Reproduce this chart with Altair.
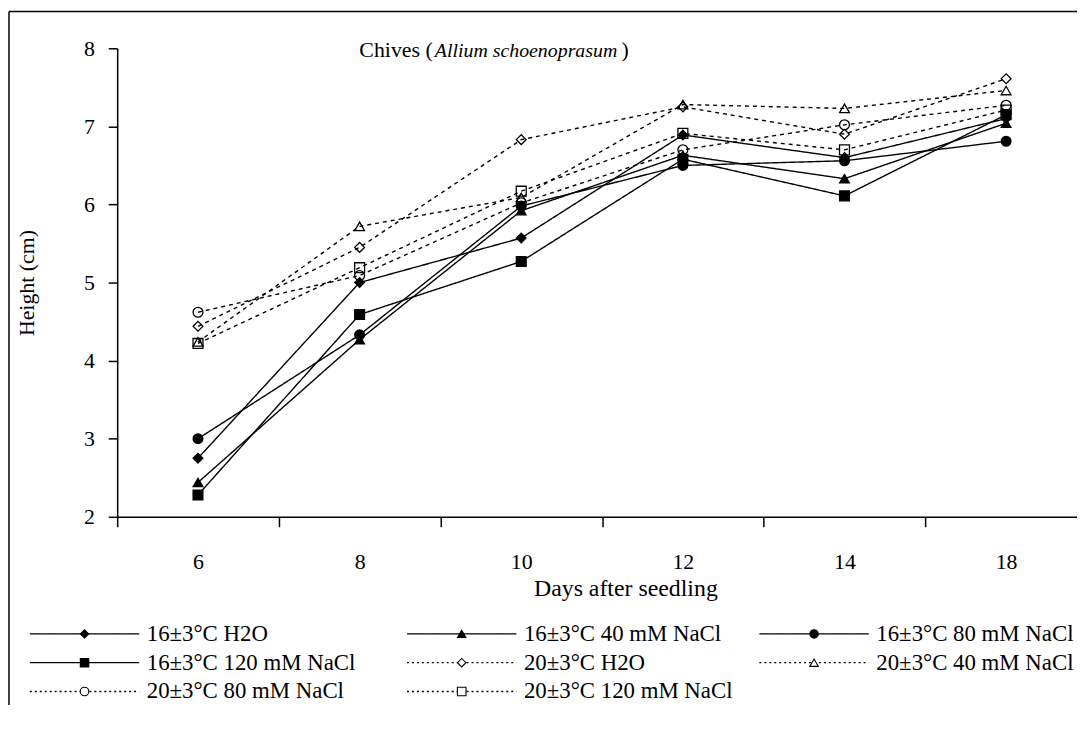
import altair as alt
import pandas as pd

days = ["6", "8", "10", "12", "14", "18"]
series = [
    "16±3°C H2O", "16±3°C 40 mM NaCl", "16±3°C 80 mM NaCl", "16±3°C 120 mM NaCl",
    "20±3°C H2O", "20±3°C 40 mM NaCl", "20±3°C 80 mM NaCl", "20±3°C 120 mM NaCl",
]
h16_h2o = [2.75, 5.00, 5.57, 6.89, 6.60, 7.10]
h16_40 = [2.44, 4.27, 5.92, 6.63, 6.33, 7.04]
h16_80 = [3.00, 4.33, 5.98, 6.50, 6.56, 6.81]
h16_120 = [2.28, 4.59, 5.27, 6.58, 6.11, 7.15]
h20_h2o = [4.44, 5.45, 6.83, 7.25, 6.90, 7.61]
h20_40 = [4.24, 5.72, 6.09, 7.28, 7.23, 7.46]
h20_80 = [4.62, 5.09, 6.02, 6.70, 7.02, 7.27]
h20_120 = [4.22, 5.19, 6.17, 6.91, 6.70, 7.21]
all_values = [h16_h2o, h16_40, h16_80, h16_120, h20_h2o, h20_40, h20_80, h20_120]

# styles
shapes = ["diamond", "triangle-up", "circle", "square"] * 2
fills = ["black"] * 4 + ["transparent"] * 4
dashes = [[1, 0]] * 4 + [[4, 4]] * 4
legend_dashes = [[1, 0]] * 4 + [[2, 3]] * 4
sizes = [95, 100, 85, 85, 80, 95, 70, 70]
legend_sizes = [70, 75, 65, 65, 40, 45, 35, 35]

rows = []
for s, vals in zip(series, all_values):
    for d, v in zip(days, vals):
        rows.append({"series": s, "day": d, "value": v})
df = pd.DataFrame(rows)

leg = pd.DataFrame({
    "series": series,
    "col": [i % 3 for i in range(len(series))],
    "row": [i // 3 for i in range(len(series))],
})
leg["x0"] = leg["col"]
leg["x1"] = leg["col"] + 0.29
leg["xm"] = leg["col"] + 0.145
leg["xt"] = leg["col"] + 0.31

FONT = "Liberation Serif"
W, H = 967, 472

xenc = alt.X("day:O", sort=days,
             scale=alt.Scale(domain=days, type="band", paddingInner=0, paddingOuter=0, range=[0, 977]),
             axis=alt.Axis(title="Days after seedling", tickBand="extent", labelAngle=0,
                           tickSize=10, labelPadding=25, titleX=512, titleY=72,
                           titleBaseline="middle", titleAlign="center", titleFontSize=24))
yenc = alt.Y("value:Q", scale=alt.Scale(domain=[2, 8], nice=False, zero=False),
             axis=alt.Axis(title="Height (cm)", values=[2, 3, 4, 5, 6, 7, 8], tickSize=9,
                           labelPadding=14, titleX=-91, titleY=236, titleAngle=270,
                           titleBaseline="middle", titleAlign="center"))

sc_dash = alt.Scale(domain=series, range=dashes)
sc_shape = alt.Scale(domain=series, range=shapes)
sc_fill = alt.Scale(domain=series, range=fills)
sc_size = alt.Scale(domain=series, range=sizes)

lines = alt.Chart(df).mark_line(color="black", strokeWidth=1.4).encode(
    x=xenc, y=yenc,
    strokeDash=alt.StrokeDash("series:N", scale=sc_dash, legend=None),
    detail="series:N",
)
points = alt.Chart(df).mark_point(stroke="black", strokeWidth=1.3, opacity=1).encode(
    x=xenc, y=yenc,
    shape=alt.Shape("series:N", scale=sc_shape, legend=None),
    fill=alt.Fill("series:N", scale=sc_fill, legend=None),
    size=alt.Size("series:N", scale=sc_size, legend=None),
)

one = pd.DataFrame({"k": [0]})
t1 = alt.Chart(one).mark_text(font=FONT, fontSize=22, align="left", baseline="alphabetic", color="black").encode(
    x=alt.value(244), y=alt.value(9), text=alt.value("Chives ("))
t2 = alt.Chart(one).mark_text(font=FONT, fontSize=20, fontStyle="italic", align="left", baseline="alphabetic", color="black").encode(
    x=alt.value(320), y=alt.value(9), text=alt.value("Allium schoenoprasum"))
t3 = alt.Chart(one).mark_text(font=FONT, fontSize=22, align="left", baseline="alphabetic", color="black").encode(
    x=alt.value(508), y=alt.value(9), text=alt.value(")"))

frame_left = alt.Chart(one).mark_rule(color="black", strokeWidth=1.5).encode(
    x=alt.value(-109), y=alt.value(-37), y2=alt.value(800))
frame_top = alt.Chart(one).mark_rule(color="black", strokeWidth=1.5).encode(
    x=alt.value(-109), x2=alt.value(1200), y=alt.value(-37))

main = alt.layer(lines, points, t1, t2, t3, frame_left, frame_top)

# legend columns: each column spans one unit; the first half of each unit is uniform
lx = alt.Scale(domain=[0, 0.5, 1, 1.5, 2, 2.5, 3],
               range=[-88, 102, 292, 482, 647, 837, 1027], zero=False, nice=False)
ly = alt.Scale(domain=[0, 2], range=[590, 648], zero=False, nice=False)

leg_lines = alt.Chart(leg).mark_rule(color="black", strokeWidth=1.3).encode(
    x=alt.X("x0:Q", scale=lx, axis=None), x2="x1:Q",
    y=alt.Y("row:Q", scale=ly, axis=None),
    strokeDash=alt.StrokeDash("series:N", scale=alt.Scale(domain=series, range=legend_dashes), legend=None),
)
leg_pts = alt.Chart(leg).mark_point(stroke="black", strokeWidth=1.1, opacity=1).encode(
    x=alt.X("xm:Q", scale=lx, axis=None),
    y=alt.Y("row:Q", scale=ly, axis=None),
    shape=alt.Shape("series:N", scale=sc_shape, legend=None),
    fill=alt.Fill("series:N", scale=alt.Scale(domain=series, range=["black"] * 4 + ["white"] * 4), legend=None),
    size=alt.Size("series:N", scale=alt.Scale(domain=series, range=legend_sizes), legend=None),
)
leg_txt = alt.Chart(leg).mark_text(font=FONT, fontSize=23, align="left", baseline="middle", color="black").encode(
    x=alt.X("xt:Q", scale=lx, axis=None),
    y=alt.Y("row:Q", scale=ly, axis=None),
    text="series:N",
)
legend_layer = alt.layer(leg_lines, leg_pts, leg_txt)

chart = alt.layer(main, legend_layer).resolve_scale(
    x="independent", y="independent", shape="independent", fill="independent",
    size="independent", strokeDash="independent"
).properties(
    width=W, height=H,
    autosize=alt.AutoSizeParams(type="none"),
    padding={"left": 110, "top": 38, "right": 0, "bottom": 187},
).configure_view(stroke=None).configure_axis(
    domainColor="black", domainWidth=1.5, tickColor="black", tickWidth=1.5,
    labelFont=FONT, labelFontSize=22, labelColor="black",
    titleFont=FONT, titleFontSize=22, titleColor="black", titleFontWeight="normal",
    grid=False,
)

chart.save("out.html", embed_options={"renderer": "svg", "actions": False})
